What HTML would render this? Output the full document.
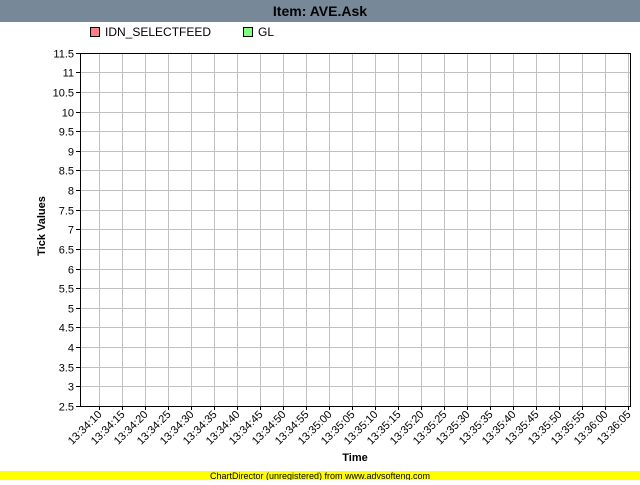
<!DOCTYPE html>
<html><head><meta charset="utf-8"><style>
body{margin:0;background:#fff;}
svg text{font-family:"Liberation Sans",Arial,sans-serif;}
</style></head><body>
<svg width="640" height="480" xmlns="http://www.w3.org/2000/svg">
<rect x="0" y="0" width="640" height="480" fill="#fff"/>
<rect x="0" y="0" width="640" height="22" fill="#778899"/>
<text x="320" y="16" text-anchor="middle" font-size="14" font-weight="bold" fill="#000">Item: AVE.Ask</text>
<g>
<rect x="90.5" y="27.5" width="9" height="9" fill="#ff8080" stroke="#000"/>
<text x="105" y="36" font-size="12">IDN_SELECTFEED</text>
<rect x="243.5" y="27.5" width="9" height="9" fill="#80ff80" stroke="#000"/>
<text x="258" y="36" font-size="12">GL</text>
</g>
<g id="grid"></g>
<g id="axes"></g>
<text transform="translate(45,226) rotate(-90)" text-anchor="middle" font-size="11" font-weight="bold">Tick Values</text>
<text x="355" y="461" text-anchor="middle" font-size="11" font-weight="bold">Time</text>
<rect x="0" y="471" width="640" height="9" fill="#ffff00"/>
<text x="320" y="479" text-anchor="middle" font-size="9">ChartDirector (unregistered) from www.advsofteng.com</text>
</svg>
<script>
const yTicks=[2.5,3,3.5,4,4.5,5,5.5,6,6.5,7,7.5,8,8.5,9,9.5,10,10.5,11,11.5];
const xLabels=["13:34:10","13:34:15","13:34:20","13:34:25","13:34:30","13:34:35","13:34:40","13:34:45","13:34:50","13:34:55","13:35:00","13:35:05","13:35:10","13:35:15","13:35:20","13:35:25","13:35:30","13:35:35","13:35:40","13:35:45","13:35:50","13:35:55","13:36:00","13:36:05"];
const L=80,R=630,T=52.7,B=406;
const NS="http://www.w3.org/2000/svg";
function yS(v){return B-(v-2.5)/(11.5-2.5)*(B-T);}
function xS(i){return 98.7+i*23;}
function mk(tag,attrs,parent){const e=document.createElementNS(NS,tag);for(const k in attrs)e.setAttribute(k,attrs[k]);parent.appendChild(e);return e;}
const g=document.getElementById('grid'),a=document.getElementById('axes');
yTicks.forEach(v=>{
 const y=Math.round(yS(v))+0.5;
 const ln=mk('line',{x1:L,x2:R,y1:y,y2:y,stroke:'#c0c0c0','stroke-width':1},g);
 
 
 const tk=mk('line',{x1:L-4,x2:L,y1:y,y2:y,stroke:'#000'},a);
 
 
 const t=mk('text',{x:L-6,y:y+4,'text-anchor':'end','font-size':11},a);
 t.textContent=String(v);
 
 
});
xLabels.forEach((s,i)=>{
 const x=Math.round(xS(i))+0.5;
 const ln=mk('line',{x1:x,x2:x,y1:T,y2:B,stroke:'#c0c0c0'},g);
 
 
 const tk=mk('line',{x1:x,x2:x,y1:B,y2:B+4,stroke:'#000'},a);
 
 
 const t=mk('text',{transform:`translate(${x+3},${B+9}) rotate(-45)`,'text-anchor':'end','font-size':11},a);
 t.textContent=s;
 
 
});
const fr=mk('rect',{x:L+0.5,y:Math.round(T)+0.5,width:R-L,height:B-Math.round(T),fill:'none',stroke:'#000'},a);


</script>
</body></html>
